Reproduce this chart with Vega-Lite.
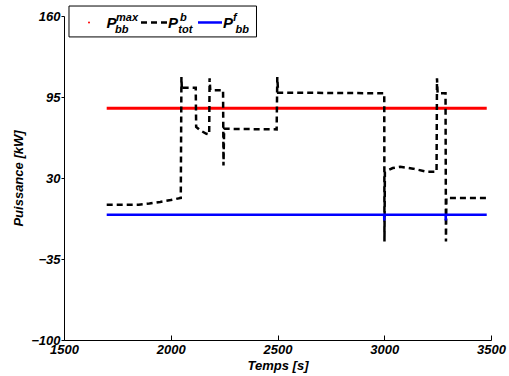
{
  "$schema": "https://vega.github.io/schema/vega-lite/v6.json",
  "width": 427,
  "height": 324,
  "autosize": {"type": "none"},
  "padding": {"left": 64, "top": 16, "right": 18, "bottom": 36},
  "background": "white",
  "config": {
    "view": {"stroke": null},
    "font": "Liberation Sans",
    "axis": {
      "labelFont": "Liberation Sans",
      "labelFontWeight": "bold",
      "labelFontStyle": "italic",
      "labelFontSize": 13,
      "labelColor": "black",
      "titleFont": "Liberation Sans",
      "titleFontWeight": "bold",
      "titleFontStyle": "italic",
      "titleFontSize": 13,
      "titleColor": "black",
      "domainColor": "black",
      "tickColor": "black",
      "grid": false
    }
  },
  "datasets": {
    "pmax": [
      {"t": 1700, "p": 86},
      {"t": 3480, "p": 86}
    ],
    "pf": [
      {"t": 1700, "p": 0.5},
      {"t": 2999.5, "p": 0.5},
      {"t": 3000, "p": -4},
      {"t": 3000.5, "p": 0.5},
      {"t": 3287.5, "p": 0.5},
      {"t": 3288, "p": -4},
      {"t": 3288.5, "p": 0.5},
      {"t": 3480, "p": 0.5}
    ],
    "ptot": [
      {"t": 1700, "p": 8.5},
      {"t": 1800, "p": 8.5},
      {"t": 1850, "p": 8.6},
      {"t": 1900, "p": 9.5},
      {"t": 1950, "p": 10.8},
      {"t": 2000, "p": 12.3},
      {"t": 2047, "p": 14},
      {"t": 2050, "p": 111},
      {"t": 2052, "p": 101},
      {"t": 2056, "p": 102.5},
      {"t": 2117, "p": 102.5},
      {"t": 2119, "p": 71},
      {"t": 2140, "p": 68},
      {"t": 2167, "p": 65.5},
      {"t": 2180, "p": 65},
      {"t": 2182, "p": 110},
      {"t": 2185, "p": 100.5},
      {"t": 2245, "p": 100.5},
      {"t": 2247, "p": 40},
      {"t": 2250, "p": 69.5},
      {"t": 2496, "p": 69},
      {"t": 2499, "p": 111},
      {"t": 2503, "p": 98.5},
      {"t": 3000, "p": 98},
      {"t": 3001, "p": -21},
      {"t": 3003, "p": 35},
      {"t": 3040, "p": 38},
      {"t": 3075, "p": 39},
      {"t": 3135, "p": 37.5},
      {"t": 3200, "p": 35},
      {"t": 3245, "p": 35},
      {"t": 3247, "p": 110},
      {"t": 3250, "p": 98},
      {"t": 3287, "p": 98},
      {"t": 3289, "p": -21},
      {"t": 3291, "p": 14},
      {"t": 3480, "p": 14}
    ],
    "one": [{}]
  },
  "layer": [
    {
      "data": {"name": "pmax"},
      "mark": {"type": "line", "color": "#ff0000", "strokeWidth": 3},
      "encoding": {
        "x": {
          "field": "t", "type": "quantitative",
          "scale": {"domain": [1500, 3500], "nice": false, "zero": false},
          "axis": {"values": [1500, 2000, 2500, 3000, 3500], "title": "Temps [s]", "tickSize": -5, "labelPadding": 8, "titlePadding": 3, "format": "d", "labelFlush": false}
        },
        "y": {
          "field": "p", "type": "quantitative",
          "scale": {"domain": [-100, 160], "nice": false, "zero": false},
          "axis": {"values": [-100, -35, 30, 95, 160], "title": "Puissance [kW]", "tickSize": 3, "labelPadding": 1, "titlePadding": 5, "labelFlush": false}
        }
      }
    },
    {
      "data": {"name": "ptot"},
      "mark": {"type": "line", "color": "black", "strokeWidth": 2.5, "strokeDash": [6, 4]},
      "encoding": {
        "x": {"field": "t", "type": "quantitative"},
        "y": {"field": "p", "type": "quantitative"}
      }
    },
    {
      "data": {"name": "pf"},
      "mark": {"type": "line", "color": "#0000ff", "strokeWidth": 2.5},
      "encoding": {
        "x": {"field": "t", "type": "quantitative"},
        "y": {"field": "p", "type": "quantitative"}
      }
    },
    {
      "data": {"name": "one"},
      "mark": {"type": "rect", "fill": "white", "stroke": "black", "strokeWidth": 1},
      "encoding": {
        "x": {"datum": 1523.4}, "x2": {"datum": 2401.6},
        "y": {"datum": 168.0}, "y2": {"datum": 143.2}
      }
    },
    {
      "data": {"name": "one"},
      "mark": {"type": "point", "filled": true, "color": "#ff0000", "size": 4, "opacity": 1},
      "encoding": {"x": {"datum": 1617.1}, "y": {"datum": 154.8}}
    },
    {
      "data": {"name": "one"},
      "mark": {"type": "rule", "color": "black", "strokeWidth": 2.5, "strokeDash": [6, 4]},
      "encoding": {"x": {"datum": 1860.7}, "x2": {"datum": 1982.4}, "y": {"datum": 154.8}}
    },
    {
      "data": {"name": "one"},
      "mark": {"type": "rule", "color": "#0000ff", "strokeWidth": 2.5},
      "encoding": {"x": {"datum": 2127.6}, "x2": {"datum": 2240}, "y": {"datum": 154.8}}
    },
    {
      "data": {"name": "one"},
      "mark": {"type": "text", "align": "left", "baseline": "alphabetic", "font": "Liberation Sans", "fontWeight": "bold", "fontStyle": "italic", "fontSize": 15, "color": "black"},
      "encoding": {"x": {"datum": 1699.1}, "y": {"datum": 150.4}, "text": {"value": "P"}}
    },
    {
      "data": {"name": "one"},
      "mark": {"type": "text", "align": "left", "baseline": "alphabetic", "font": "Liberation Sans", "fontWeight": "bold", "fontStyle": "italic", "fontSize": 15, "color": "black"},
      "encoding": {"x": {"datum": 1987.1}, "y": {"datum": 150.4}, "text": {"value": "P"}}
    },
    {
      "data": {"name": "one"},
      "mark": {"type": "text", "align": "left", "baseline": "alphabetic", "font": "Liberation Sans", "fontWeight": "bold", "fontStyle": "italic", "fontSize": 15, "color": "black"},
      "encoding": {"x": {"datum": 2244.7}, "y": {"datum": 150.4}, "text": {"value": "P"}}
    },
    {
      "data": {"name": "one"},
      "mark": {"type": "text", "align": "left", "baseline": "alphabetic", "font": "Liberation Sans", "fontWeight": "bold", "fontStyle": "italic", "fontSize": 11, "color": "black"},
      "encoding": {"x": {"datum": 1743.6}, "y": {"datum": 156.0}, "text": {"value": "max"}}
    },
    {
      "data": {"name": "one"},
      "mark": {"type": "text", "align": "left", "baseline": "alphabetic", "font": "Liberation Sans", "fontWeight": "bold", "fontStyle": "italic", "fontSize": 11, "color": "black"},
      "encoding": {"x": {"datum": 1738.9}, "y": {"datum": 146.0}, "text": {"value": "bb"}}
    },
    {
      "data": {"name": "one"},
      "mark": {"type": "text", "align": "left", "baseline": "alphabetic", "font": "Liberation Sans", "fontWeight": "bold", "fontStyle": "italic", "fontSize": 11, "color": "black"},
      "encoding": {"x": {"datum": 2043.3}, "y": {"datum": 156.0}, "text": {"value": "b"}}
    },
    {
      "data": {"name": "one"},
      "mark": {"type": "text", "align": "left", "baseline": "alphabetic", "font": "Liberation Sans", "fontWeight": "bold", "fontStyle": "italic", "fontSize": 11, "color": "black"},
      "encoding": {"x": {"datum": 2035.4}, "y": {"datum": 146.0}, "text": {"value": "tot"}}
    },
    {
      "data": {"name": "one"},
      "mark": {"type": "text", "align": "left", "baseline": "alphabetic", "font": "Liberation Sans", "fontWeight": "bold", "fontStyle": "italic", "fontSize": 11, "color": "black"},
      "encoding": {"x": {"datum": 2291.6}, "y": {"datum": 156.0}, "text": {"value": "f"}}
    },
    {
      "data": {"name": "one"},
      "mark": {"type": "text", "align": "left", "baseline": "alphabetic", "font": "Liberation Sans", "fontWeight": "bold", "fontStyle": "italic", "fontSize": 11, "color": "black"},
      "encoding": {"x": {"datum": 2303.3}, "y": {"datum": 146.0}, "text": {"value": "bb"}}
    }
  ]
}
